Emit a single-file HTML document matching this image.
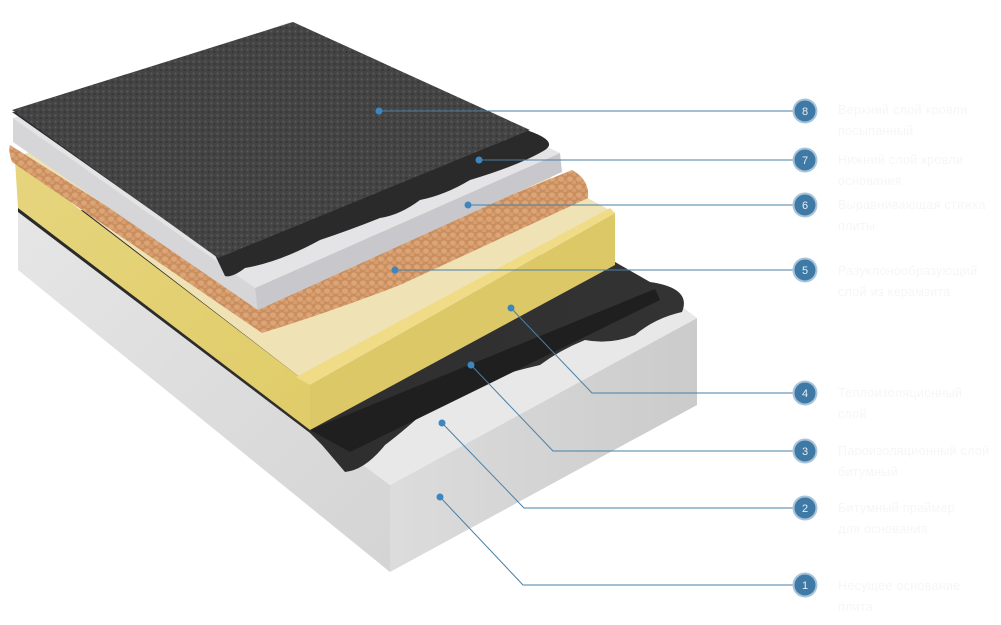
<!DOCTYPE html>
<html><head><meta charset="utf-8"><style>
html,body{margin:0;padding:0;background:#fff;}
body{width:1001px;height:625px;overflow:hidden;position:relative;font-family:"Liberation Sans","DejaVu Sans",sans-serif;}
.t{position:absolute;left:838px;font-size:12.5px;line-height:21px;color:#f5f6f7;letter-spacing:.3px}
</style></head><body>
<svg width="1001" height="625" viewBox="0 0 1001 625" style="position:absolute;left:0;top:0">
<defs>
<linearGradient id="slabL" x1="0" y1="0" x2="1" y2="1"><stop offset="0" stop-color="#e6e6e6"/><stop offset="1" stop-color="#d4d4d4"/></linearGradient>
<linearGradient id="slabR" x1="0" y1="0" x2="1" y2="0"><stop offset="0" stop-color="#dcdcdc"/><stop offset="1" stop-color="#cbcbcb"/></linearGradient>
<linearGradient id="yel" x1="0" y1="0" x2="1" y2="1"><stop offset="0" stop-color="#e6d57e"/><stop offset="1" stop-color="#e0cc68"/></linearGradient>
<linearGradient id="blk" x1="0" y1="0" x2="1" y2="0"><stop offset="0" stop-color="#2a2a2a"/><stop offset="1" stop-color="#333"/></linearGradient>
<pattern id="gran" width="6" height="6" patternUnits="userSpaceOnUse"><rect width="6" height="6" fill="#444"/><circle cx="1.5" cy="1.5" r="1" fill="#5c5c5c"/><circle cx="4.5" cy="4" r="0.9" fill="#303030"/></pattern>
<pattern id="balls" width="9" height="8" patternUnits="userSpaceOnUse"><rect width="9" height="8" fill="#c98f5e"/><ellipse cx="3" cy="3" rx="3" ry="2.6" fill="#dda477"/><ellipse cx="7.5" cy="6.5" rx="2.5" ry="2.2" fill="#d79d6e"/></pattern>
</defs>
<!-- slab -->
<polygon points="18,208 18,270 390,572 390,485" fill="url(#slabL)"/>
<polygon points="390,485 697,318 697,405 390,572" fill="url(#slabR)"/>
<polygon points="18,208 390,485 697,318 660,290 615,262" fill="#e8e8e8"/>
<!-- black membrane on slab -->
<path d="M18,204 L615,262 L650,282 Q692,288 682,312 Q655,318 635,335 Q610,345 585,340 Q560,350 540,365 Q510,372 485,380 Q460,400 432,405 Q405,430 385,445 Q365,470 345,472 L322,445 L310,433 L18,212 Z" fill="url(#blk)"/>
<polygon points="310,430 655,289 660,300 350,452" fill="#1f1f1f"/>
<!-- insulation -->
<polygon points="15,160 310,385 310,430 18,208" fill="url(#yel)"/>
<polygon points="310,385 615,213 615,265 310,430" fill="#ddc867"/>
<polygon points="15,158 300,40 615,213 310,385" fill="#efe2b5"/>
<polygon points="296,377 610,208 615,213 310,385" fill="#f0dc86"/>
<!-- clay balls -->
<path d="M10,145 Q8,150 12,162 L262,333 Q330,312 400,285 L588,198 Q590,180 572,170 L255,300 Z" fill="url(#balls)"/>
<!-- board -->
<polygon points="13,118 255,288 258,310 13,142" fill="#d6d6d8"/>
<polygon points="255,288 560,153 562,172 258,310" fill="#c8c8cc"/>
<polygon points="13,118 290,22 560,153 255,288" fill="#e4e4e6"/>
<!-- top membrane -->
<path d="M12,112 L520,128 Q560,140 545,150 Q520,165 470,180 Q445,195 420,200 Q400,215 380,218 Q350,230 320,240 Q280,262 245,268 Q232,278 225,276 L215,255 Z" fill="#2a2a2a"/>
<!-- granulated top -->
<polygon points="12,110 293,22 530,130 218,258" fill="url(#gran)"/>
<!-- leader lines -->
<g stroke="#4a7fa5" stroke-width="1" fill="none">
<polyline points="379,111 793,111"/>
<polyline points="479,160 793,160"/>
<polyline points="468,205 793,205"/>
<polyline points="395,270 793,270"/>
<polyline points="511,308 592,393 793,393"/>
<polyline points="471,365 553,451 793,451"/>
<polyline points="442,423 524,508 793,508"/>
<polyline points="440,497 523,585 793,585"/>
</g>
<g fill="#3d86bf">
<circle cx="379" cy="111" r="3.5"/><circle cx="479" cy="160" r="3.5"/><circle cx="468" cy="205" r="3.5"/><circle cx="395" cy="270" r="3.5"/>
<circle cx="511" cy="308" r="3.5"/><circle cx="471" cy="365" r="3.5"/><circle cx="442" cy="423" r="3.5"/><circle cx="440" cy="497" r="3.5"/>
</g>
<g font-family="Liberation Sans,sans-serif" font-size="11" fill="#e6eef5" text-anchor="middle">
<g><circle cx="805" cy="111" r="11.5" fill="#3f79a5" stroke="#a9c4d9" stroke-width="2"/><text x="805" y="115">8</text></g>
<g><circle cx="805" cy="160" r="11.5" fill="#3f79a5" stroke="#a9c4d9" stroke-width="2"/><text x="805" y="164">7</text></g>
<g><circle cx="805" cy="205" r="11.5" fill="#3f79a5" stroke="#a9c4d9" stroke-width="2"/><text x="805" y="209">6</text></g>
<g><circle cx="805" cy="270" r="11.5" fill="#3f79a5" stroke="#a9c4d9" stroke-width="2"/><text x="805" y="274">5</text></g>
<g><circle cx="805" cy="393" r="11.5" fill="#3f79a5" stroke="#a9c4d9" stroke-width="2"/><text x="805" y="397">4</text></g>
<g><circle cx="805" cy="451" r="11.5" fill="#3f79a5" stroke="#a9c4d9" stroke-width="2"/><text x="805" y="455">3</text></g>
<g><circle cx="805" cy="508" r="11.5" fill="#3f79a5" stroke="#a9c4d9" stroke-width="2"/><text x="805" y="512">2</text></g>
<g><circle cx="805" cy="585" r="11.5" fill="#3f79a5" stroke="#a9c4d9" stroke-width="2"/><text x="805" y="589">1</text></g>
</g>
</svg>
<div class="t" style="top:100px">Верхний слой кровли<br>посыпанный</div>
<div class="t" style="top:150px">Нижний слой кровли<br>основания</div>
<div class="t" style="top:195px">Выравнивающая стяжка<br>плиты</div>
<div class="t" style="top:261px">Разуклонообразующий<br>слой из керамзита</div>
<div class="t" style="top:383px">Теплоизоляционный<br>слой</div>
<div class="t" style="top:441px">Пароизоляционный слой<br>битумный</div>
<div class="t" style="top:498px">Битумный праймер<br>для основания</div>
<div class="t" style="top:576px">Несущее основание<br>плита</div>
</body></html>
